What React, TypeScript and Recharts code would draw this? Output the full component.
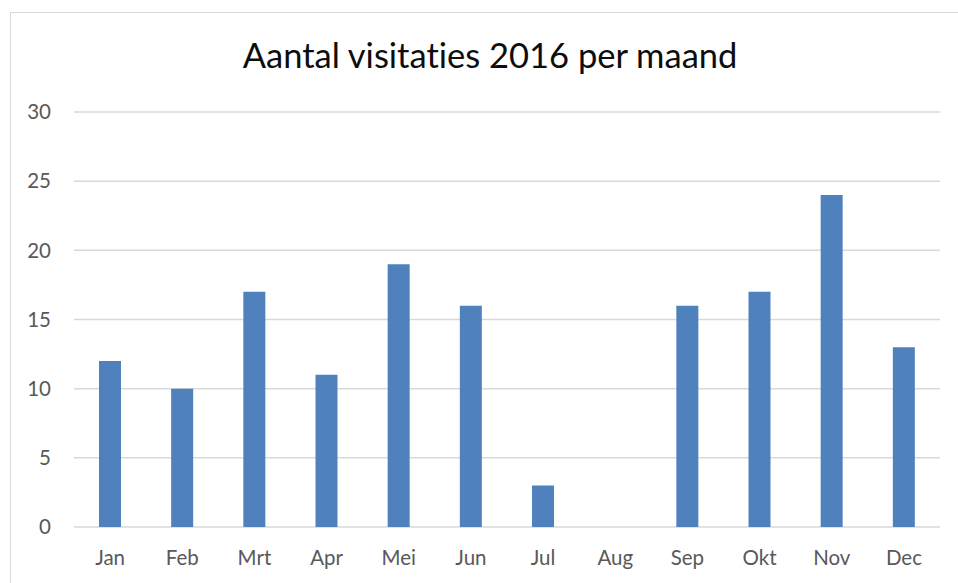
import React from "react";
import { BarChart, Bar, XAxis, YAxis, CartesianGrid } from "recharts";

const months = ["Jan", "Feb", "Mrt", "Apr", "Mei", "Jun", "Jul", "Aug", "Sep", "Okt", "Nov", "Dec"];
const visits = [12, 10, 17, 11, 19, 16, 3, 0, 16, 17, 24, 13];
const yTicks = [0, 5, 10, 15, 20, 25, 30];
const title = "Aantal visitaties 2016 per maand";

const data = months.map((m, i) => ({ month: m, value: visits[i] }));

const FONT = "Lato, 'Open Sans', sans-serif";

export default function App() {
  return (
    <div style={{ position: "absolute", left: 0, top: 0, width: 958, height: 583, overflow: "hidden", background: "#fff" }}>
      <div
        style={{
          position: "absolute",
          left: 10,
          top: 12,
          width: 980,
          height: 600,
          border: "1px solid #d9d9d9",
          boxSizing: "border-box",
        }}
      />
      <svg width={958} height={100} style={{ position: "absolute", left: 0, top: 0 }}>
        <text
          x={490}
          y={68}
          textAnchor="middle"
          fontFamily={FONT}
          fontSize={34.5}
          fill="#0d0d0d"
          style={{ fontVariantLigatures: "none" }}
        >
          {title}
        </text>
      </svg>
      <div style={{ position: "absolute", left: 0, top: 0 }}>
        <BarChart
          width={958}
          height={583}
          data={data}
          margin={{ top: 112, right: 18, bottom: 0, left: 0 }}
          barCategoryGap={0}
        >
          <CartesianGrid vertical={false} stroke="#d9d9d9" strokeWidth={1.5} />
          <XAxis
            dataKey="month"
            height={56}
            axisLine={false}
            tickLine={false}
            tickSize={0}
            tickMargin={23}
            interval={0}
            tick={{ fill: "#595959", fontSize: 20.5, fontFamily: FONT }}
          />
          <YAxis
            width={74}
            domain={[0, 30]}
            ticks={yTicks}
            axisLine={false}
            tickLine={false}
            tickSize={0}
            tickMargin={23}
            tick={{ fill: "#595959", fontSize: 20.5, fontFamily: FONT }}
          />
          <Bar dataKey="value" fill="#4f81bd" barSize={22} isAnimationActive={false} />
        </BarChart>
      </div>
    </div>
  );
}
